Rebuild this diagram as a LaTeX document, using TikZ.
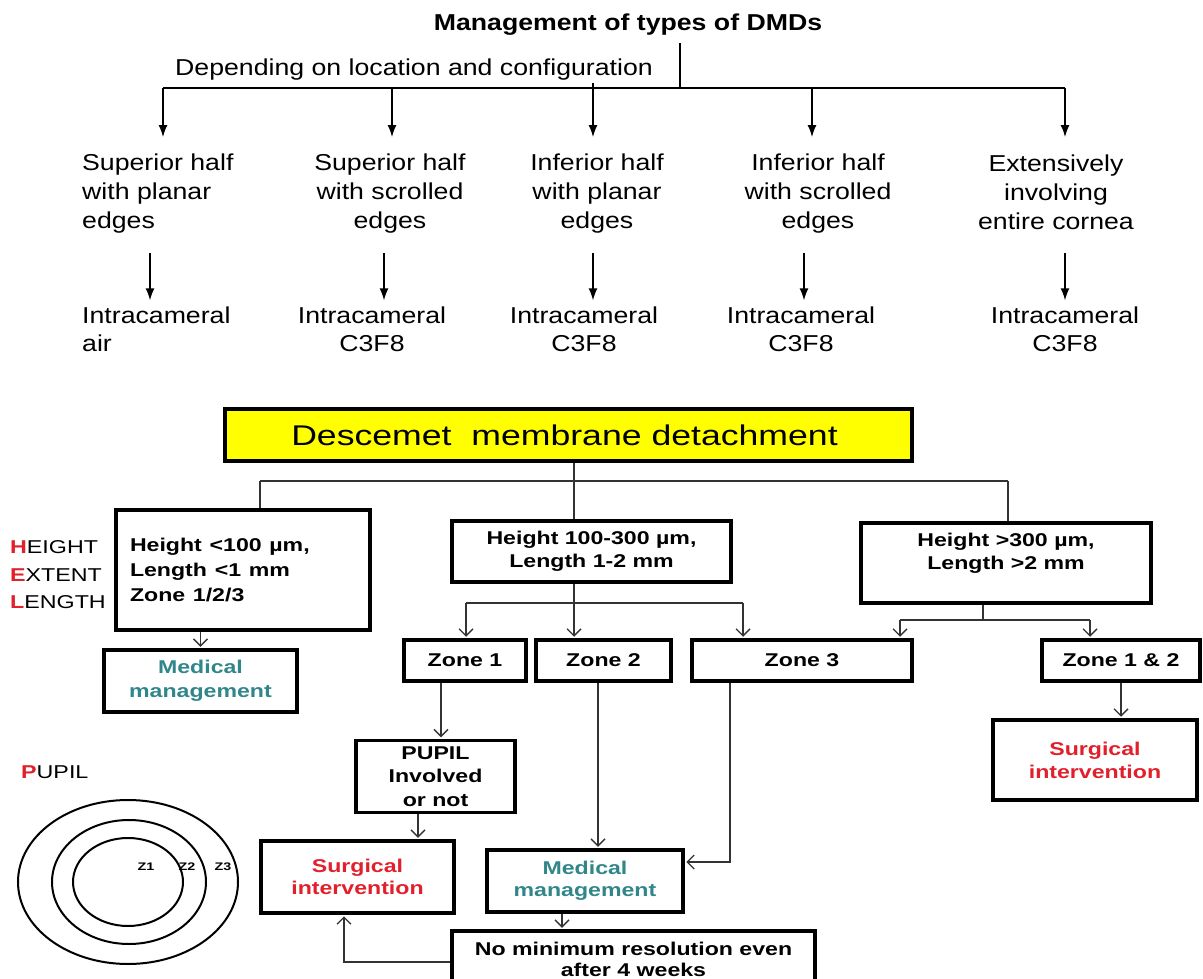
\documentclass[tikz,border=0pt]{standalone}
\usepackage{fontspec}
\setmainfont{Liberation Sans}
\usepackage{graphicx}
\usetikzlibrary{arrows.meta,calc}
\definecolor{hred}{RGB}{226,32,44}
\definecolor{tealx}{RGB}{49,134,138}
\definecolor{yel}{RGB}{255,255,0}
\newcommand{\tw}[1]{\scalebox{1.16}[1]{#1}}
\newcommand{\bw}[1]{\scalebox{1.25}[1]{#1}}
\begin{document}
\begin{tikzpicture}[x=1pt,y=-1pt,
  toptxt/.style={font=\fontsize{23}{29}\selectfont, inner sep=0pt},
  lowtxt/.style={font=\fontsize{23}{28}\selectfont, inner sep=0pt},
  conn/.style={line width=1.5pt, black},
  tarr/.style={conn, -{Latex[length=12pt,width=9pt]}},
  bline/.style={line width=1.4pt, black!80},
  barr/.style={bline, -{Straight Barb[length=7pt,width=14pt]}, shorten >=1.5pt},
  box/.style={draw, line width=3.5pt, inner sep=0pt, align=center,
    font=\fontsize{18.5}{24}\selectfont\bfseries},
]
\useasboundingbox (0,0) rectangle (1203,979);
\clip (0,0) rectangle (1203,979);

% ---------- top part ----------
\node[toptxt, font=\fontsize{23}{29}\selectfont\bfseries] (title) at (628,25) {\tw{Management of types of DMDs}};
\node[toptxt] (dep) at (414,70) {\tw{Depending on location and configuration}};
\coordinate (t0) at (680,43);
\coordinate (t1) at (680,88);
\coordinate (h1) at (163,88);
\coordinate (h2) at (392,88);
\coordinate (h3) at (593,83);
\coordinate (h4) at (812,88);
\coordinate (h5) at (1065,88);
\draw[conn] (t0) -- (t1);
\draw[conn] (h1) -- (h5);

\node[toptxt, align=left, anchor=west] (c1) at (82,194) {\tw{Superior half}\\\tw{with planar}\\\tw{edges}};
\node[toptxt, align=center] (c2) at (390,194) {\tw{Superior half}\\\tw{with scrolled}\\\tw{edges}};
\node[toptxt, align=center] (c3) at (597,194) {\tw{Inferior half}\\\tw{with planar}\\\tw{edges}};
\node[toptxt, align=center] (c4) at (818,194) {\tw{Inferior half}\\\tw{with scrolled}\\\tw{edges}};
\node[toptxt, align=center] (c5) at (1056,192) {\tw{Extensively}\\\tw{involving}\\\tw{entire cornea}};

\foreach \i in {1,...,5}{
  \draw[tarr] (h\i) -- ($(h\i |- c1.north)+(0,-17)$);
}

\node[lowtxt, align=left, anchor=west] (d1) at (82,329) {\tw{Intracameral}\\\tw{air}};
\node[lowtxt, align=center] (d2) at (372,329) {\tw{Intracameral}\\\tw{C3F8}};
\node[lowtxt, align=center] (d3) at (584,329) {\tw{Intracameral}\\\tw{C3F8}};
\node[lowtxt, align=center] (d4) at (801,329) {\tw{Intracameral}\\\tw{C3F8}};
\node[lowtxt, align=center] (d5) at (1065,329) {\tw{Intracameral}\\\tw{C3F8}};

\coordinate (a1) at (150,253);
\coordinate (a2) at (384,253);
\coordinate (a3) at (593,253);
\coordinate (a4) at (804,253);
\coordinate (a5) at (1065,253);
\foreach \i in {1,...,5}{
  \draw[tarr, shorten >=6pt] (a\i) -- (a\i |- d\i.north);
}

% ---------- bottom part ----------
\node[box, fill=yel, font=\fontsize{28.5}{34}\selectfont, minimum width=687pt, minimum height=52pt] (dmd) at (568.5,435) {\hspace*{-8pt}\bw{Descemet\ \ membrane detachment}};

\node[box, minimum width=254pt, minimum height=120pt, text width=226pt, align=left, font=\fontsize{18.5}{25}\selectfont\bfseries] (hel) at (243,570) {\bw{Height <100 µm,}\\\bw{Length <1 mm}\\\bw{Zone 1/2/3}};
\node[anchor=west, align=left, inner sep=0pt, font=\fontsize{18.6}{27.5}\selectfont] (hellab) at (10,575) {\bw{\textcolor{hred}{\textbf{H}}EIGHT}\\\bw{\textcolor{hred}{\textbf{E}}XTENT}\\\bw{\textcolor{hred}{\textbf{L}}ENGTH}};

\node[box, text=tealx, minimum width=193pt, minimum height=62pt] (med1) at (200.5,681) {\bw{Medical}\\\bw{management}};
\node[box, minimum width=279pt, minimum height=61pt, font=\fontsize{18.5}{23}\selectfont\bfseries] (mid) at (591.5,551.5) {\bw{Height 100-300 µm,}\\\bw{Length 1-2 mm}};
\node[box, minimum width=290pt, minimum height=80pt, font=\fontsize{18.5}{23}\selectfont\bfseries] (right) at (1006,563) {\bw{Height >300 µm,}\\\bw{Length >2 mm}\\\mbox{}};

\node[box, minimum width=122pt, minimum height=41pt] (z1) at (465,660.5) {\bw{Zone 1}};
\node[box, minimum width=135pt, minimum height=41pt] (z2) at (603.5,660.5) {\bw{Zone 2}};
\node[box, minimum width=220pt, minimum height=41pt] (z3) at (802,660.5) {\bw{Zone 3}};
\node[box, minimum width=158pt, minimum height=41pt] (z12) at (1121,660.5) {\bw{Zone 1 \& 2}};

\node[box, minimum width=159pt, minimum height=72pt, font=\fontsize{18.5}{23.5}\selectfont\bfseries] (pupil) at (435.5,776.5) {\bw{PUPIL}\\\bw{Involved}\\\bw{or not}};
\node[box, text=hred, minimum width=193pt, minimum height=72pt, font=\fontsize{18.5}{22}\selectfont\bfseries] (surg1) at (357.5,877) {\bw{Surgical}\\\bw{intervention}};
\node[box, text=hred, minimum width=204pt, minimum height=80pt, font=\fontsize{18.5}{23}\selectfont\bfseries] (surg2) at (1095,760) {\bw{Surgical}\\\bw{intervention}};
\node[box, text=tealx, minimum width=196pt, minimum height=62pt, font=\fontsize{18.5}{22}\selectfont\bfseries] (med2) at (585,881) {\bw{Medical}\\\bw{management}};
\node[box, minimum width=363pt, minimum height=56pt, font=\fontsize{18.5}{21}\selectfont\bfseries] (nomin) at (633.5,959) {\bw{No minimum resolution even}\\\bw{after 4 weeks}};

% connectors
\coordinate (b0) at (574,481);
\coordinate (bl) at (260,481);
\coordinate (br) at (1008,481);
\draw[bline] (dmd.south -| b0) -- (b0);
\draw[bline] (bl) -- (br);
\draw[bline] (bl) -- (bl |- hel.north);
\draw[bline] (br) -- (br |- right.north);
\draw[bline] (b0) -- (b0 |- mid.north);

\coordinate (m0) at (574,603);
\coordinate (ml) at (466,603);
\coordinate (mr) at (743,603);
\draw[barr] (mid.south -| m0) -- (m0 |- z2.north);
\draw[bline] (ml) -- (mr);
\draw[barr] (ml) -- (ml |- z1.north);
\draw[barr] (mr) -- (mr |- z3.north);

\coordinate (r0) at (983,620);
\coordinate (rl) at (900,620);
\coordinate (rr) at (1090,620);
\draw[bline] (right.south -| r0) -- (r0);
\draw[bline] (rl) -- (rr);
\draw[barr] (rl) -- (rl |- z3.north);
\draw[barr] (rr) -- (rr |- z12.north);

\draw[barr] (hel.south -| med1.north) -- (med1.north);
\draw[barr] (z12.south) -- (z12.south |- surg2.north);
\draw[barr] ([xshift=5.5pt]pupil.north |- z1.south) -- ([xshift=5.5pt]pupil.north);
\draw[barr] ([xshift=-17.5pt]pupil.south) -- ([xshift=-17.5pt]pupil.south |- surg1.north);
\draw[barr] ([xshift=-5.5pt]z2.south) -- ([xshift=-5.5pt]z2.south |- med2.north);
\coordinate (z3d) at (730,862);
\draw[barr] (z3.south -| z3d) -- (z3d) -- (z3d -| med2.east);
\draw[barr] ([xshift=-23pt]med2.south) -- ([xshift=-23pt]med2.south |- nomin.north);
\coordinate (n1) at (344,962);
\draw[barr] (nomin.west |- n1) -- (n1) -- (n1 |- surg1.south);

% pupil zones
\node[anchor=west, inner sep=0pt, font=\fontsize{18.6}{22}\selectfont] (pupillab) at (21,772) {\bw{\textcolor{hred}{\textbf{P}}UPIL}};
\draw[line width=2pt] (128,882) ellipse [x radius=110pt, y radius=82pt];
\draw[line width=2pt] (129,882) ellipse [x radius=77pt, y radius=62pt];
\draw[line width=2pt] (128,882) ellipse [x radius=55pt, y radius=44pt];
\node[inner sep=0pt, font=\fontsize{11}{13}\selectfont\bfseries] (zl1) at (146,867) {\scalebox{1.3}[1]{Z1}};
\node[inner sep=0pt, font=\fontsize{11}{13}\selectfont\bfseries] (zl2) at (187,867) {\scalebox{1.3}[1]{Z2}};
\node[inner sep=0pt, font=\fontsize{11}{13}\selectfont\bfseries] (zl3) at (223,867) {\scalebox{1.3}[1]{Z3}};
\end{tikzpicture}
\end{document}
